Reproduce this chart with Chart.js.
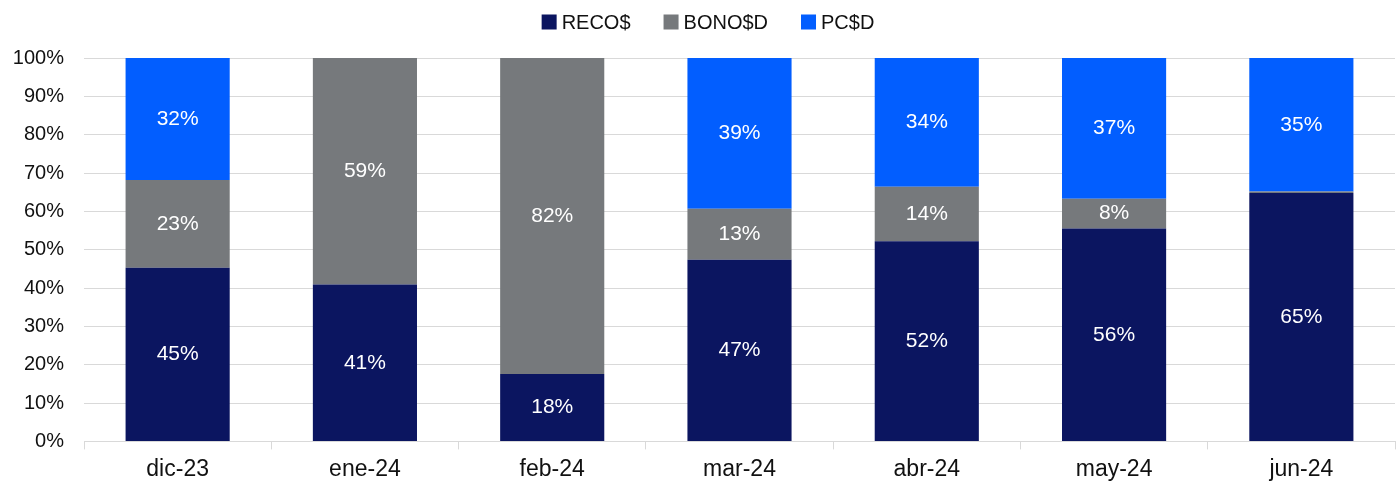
<!DOCTYPE html>
<html>
<head>
<meta charset="utf-8">
<script src="https://cdn.jsdelivr.net/npm/chart.js@4"></script>
<style>
  html, body { margin: 0; padding: 0; background: #fff; }
</style>
</head>
<body>
<canvas id="c" width="1399" height="489"></canvas>
<script>
const months = ["dic-23", "ene-24", "feb-24", "mar-24", "abr-24", "may-24", "jun-24"];
const reco = [45.3, 40.9, 17.6, 47.4, 52.2, 55.5, 64.8];
const bono = [22.9, 59.1, 82.4, 13.3, 14.2, 7.8, 0.4];
const pcd = [31.8, 0, 0, 39.3, 33.6, 36.7, 34.8];

const fam = "'Liberation Sans', Arial, sans-serif";

const labelPlugin = {
  id: "barLabels",
  afterDatasetsDraw(chart) {
    const ctx = chart.ctx;
    ctx.save();
    ctx.font = "21px " + fam;
    ctx.fillStyle = "#ffffff";
    ctx.textAlign = "center";
    ctx.textBaseline = "middle";
    chart.data.datasets.forEach((ds, i) => {
      chart.getDatasetMeta(i).data.forEach((bar, j) => {
        const v = ds.data[j];
        if (v < 5) return;
        const mid = (bar.y + bar.base) / 2;
        ctx.fillText(Math.round(v) + "%", bar.x, mid);
      });
    });
    ctx.restore();
  }
};

// legend drawn by hand so the spacing between items matches
const legendPlugin = {
  id: "topLegend",
  afterDraw(chart) {
    const ctx = chart.ctx;
    const box = 15, gap = 5, space = 33, y = 22;
    ctx.save();
    ctx.font = "20px " + fam;
    ctx.textBaseline = "middle";
    const items = chart.data.datasets.map(ds => ({
      text: ds.label, color: ds.backgroundColor,
      w: box + gap + ctx.measureText(ds.label).width
    }));
    const total = items.reduce((s, it) => s + it.w, 0) + space * (items.length - 1);
    let x = 708 - total / 2;
    items.forEach(it => {
      ctx.fillStyle = it.color;
      ctx.fillRect(x, y - box / 2, box, box);
      ctx.fillStyle = "#111";
      ctx.fillText(it.text, x + box + gap, y + 1);
      x += it.w + space;
    });
    ctx.restore();
  }
};

new Chart(document.getElementById("c"), {
  type: "bar",
  data: {
    labels: months,
    datasets: [
      { label: "RECO$", data: reco, backgroundColor: "#0b1560" },
      { label: "BONO$D", data: bono, backgroundColor: "#76797c" },
      { label: "PC$D", data: pcd, backgroundColor: "#025eff" }
    ]
  },
  options: {
    responsive: false,
    animation: false,
    devicePixelRatio: 1,
    layout: { padding: { left: 0, right: 4, top: 58, bottom: 0 } },
    datasets: { bar: { categoryPercentage: 1, barPercentage: 0.556 } },
    plugins: {
      tooltip: { enabled: false },
      legend: { display: false }
    },
    scales: {
      x: {
        stacked: true,
        grid: { display: true, drawOnChartArea: false, color: "#d9d9d9", tickLength: 8, offset: true },
        border: { color: "#d9d9d9" },
        ticks: { color: "#111", padding: 6, font: { family: fam, size: 23 } }
      },
      y: {
        stacked: true,
        min: 0, max: 100,
        afterFit(s) { s.width = 84; },
        grid: { color: "#d9d9d9", drawTicks: false },
        border: { display: false },
        ticks: {
          stepSize: 10, padding: 20,
          color: "#111",
          font: { family: fam, size: 20 },
          callback: v => v + "%"
        }
      }
    }
  },
  plugins: [labelPlugin, legendPlugin]
});
</script>
</body>
</html>
